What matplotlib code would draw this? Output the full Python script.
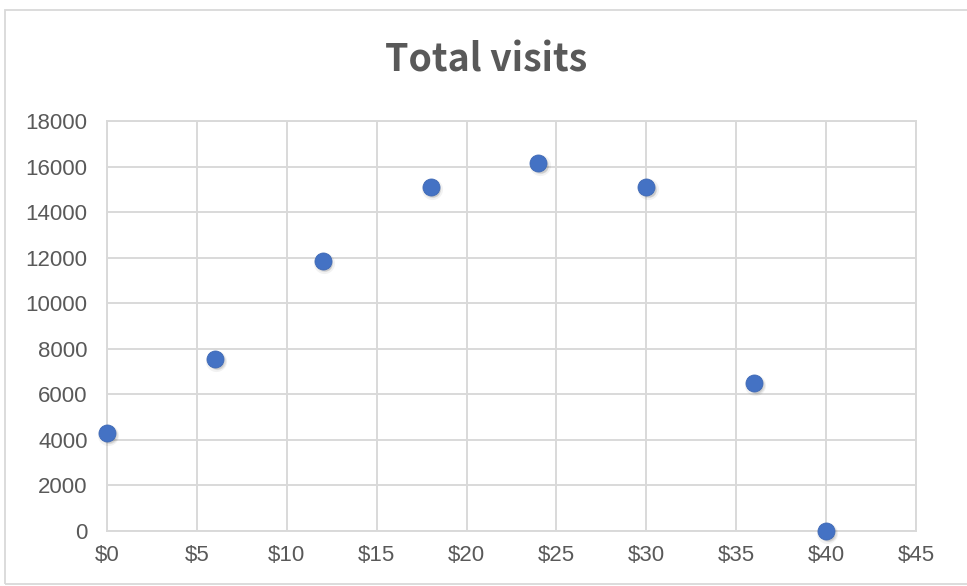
import matplotlib.pyplot as plt
from matplotlib.patches import Rectangle
from matplotlib.transforms import ScaledTranslation

# price points and total visits
price = [0, 6, 12, 18, 24, 30, 36, 40]
visits = [4300, 7550, 11850, 15100, 16150, 15100, 6500, 0]

x_ticks = [0, 5, 10, 15, 20, 25, 30, 35, 40, 45]
y_ticks = [0, 2000, 4000, 6000, 8000, 10000, 12000, 14000, 16000, 18000]

grey = "#595959"
grid = "#D9D9D9"
blue = "#4472C4"

plt.rcParams["font.family"] = ["Liberation Sans", "DejaVu Sans"]

fig = plt.figure(figsize=(9.67, 5.86), dpi=100)
fig.patches.append(Rectangle((5 / 967, 2.5 / 586), 1.0, 573.5 / 586, transform=fig.transFigure,
                             fill=False, edgecolor=grid, linewidth=1.3))

ax = fig.add_axes([107 / 967, 55 / 586, 809 / 967, 410 / 586])
ax.set_xlim(0, 45)
ax.set_ylim(0, 18000)
ax.set_xticks(x_ticks)
ax.set_xticklabels([f"${v}" for v in x_ticks])
ax.set_yticks(y_ticks)
ax.grid(True, color=grid, linewidth=1.4)
ax.set_axisbelow(True)
for s in ax.spines.values():
    s.set_color(grid)
    s.set_linewidth(1.4)
ax.tick_params(length=0, labelsize=16, labelcolor=grey)
ax.tick_params(axis="x", pad=10)
ax.tick_params(axis="y", pad=14)

# soft drop shadow under each marker
for i, a in enumerate([0.05, 0.07, 0.09]):
    off = 1.2 + 0.5 * i
    shift = ScaledTranslation(off / 100, -off * 1.3 / 100, fig.dpi_scale_trans)
    ax.scatter(price, visits, s=(17 - 3 * i) ** 2 * 0.8, color="black", alpha=a,
               linewidths=0, zorder=3, clip_on=False, transform=ax.transData + shift)
ax.scatter(price, visits, s=150, color=blue, edgecolors="#3F69B5", linewidths=0.6,
           zorder=4, clip_on=False)

fig.text(0.503, 0.898, "Total visits", ha="center", va="center", fontsize=27,
         fontweight="bold", color=grey, family=["Noto Sans CJK SC", "DejaVu Sans"])

fig.savefig("out.png", dpi=100)
